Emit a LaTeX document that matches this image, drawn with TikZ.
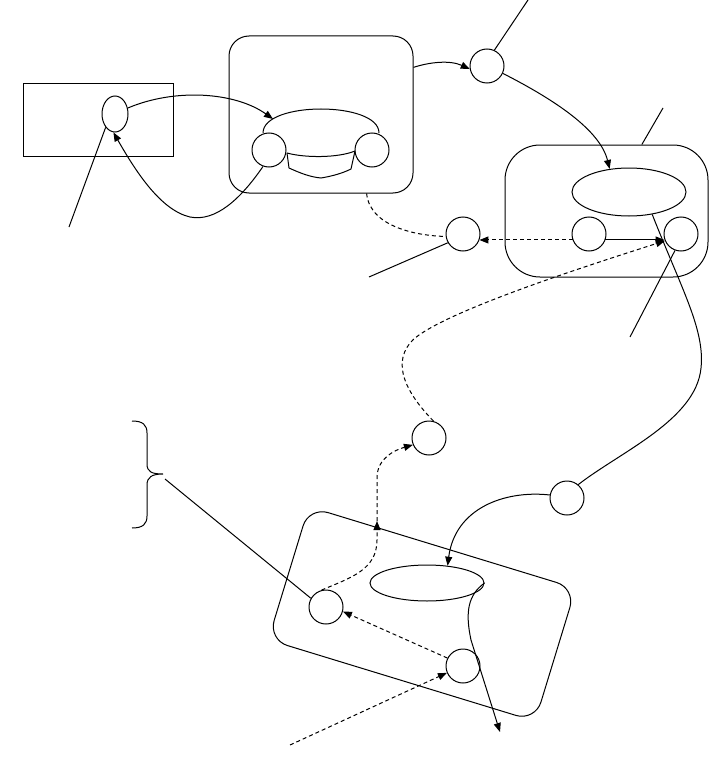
\documentclass[tikz,border=0pt]{standalone}
\usetikzlibrary{arrows.meta,shapes.geometric}
\begin{document}
\begin{tikzpicture}[x=1pt,y=-1pt,line width=1pt,
  circ/.style={draw,circle,minimum size=34pt,inner sep=0pt},
  ell/.style={draw,ellipse,inner sep=0pt},
  rbox/.style={draw,rectangle,rounded corners=#1,inner sep=0pt},
  tip/.style={-{Triangle[length=9pt,width=7pt]}},
  dsh/.style={dash pattern=on 4pt off 3pt}]
\useasboundingbox (0,0) rectangle (713,781);

% left rectangle and ellipse
\node[draw,rectangle,minimum width=150pt,minimum height=72pt,inner sep=0pt] (LR) at (98,120) {};
\node[ell,minimum width=26pt,minimum height=36pt] (e0) at (115,114) {};

% big rounded box with cylinder
\node[rbox=20pt,minimum width=184pt,minimum height=157pt] (B) at (321,114.5) {};
\node[circ] (L) at (269,150) {};
\node[circ] (R) at (372,150) {};
\coordinate (cylA) at (263,133);
\coordinate (cylB) at (379,133);
\coordinate (cylC) at (287,153);
\coordinate (cylD) at (355,151);
\coordinate (cyltop) at (273,119);
\draw (cylA) .. controls (263,101) and (379,101) .. (cylB);
\draw (cylC) .. controls (305,158) and (338,158) .. (cylD);
\draw (cylC) -- (289,168) .. controls (300,173) and (310,177) .. (321,178) .. controls (333,176) and (343,173) .. (351,169) -- (cylD);

% circles
\node[circ] (c1) at (487,66) {};
\node[circ] (c2) at (463,234) {};
\node[circ] (c3) at (429,438) {};
\node[circ] (c4) at (567,498) {};
\node[circ] (c5) at (326,607) {};
\node[circ] (c6) at (463,666) {};

% right rounded box
\node[rbox=35pt,minimum width=203pt,minimum height=132pt] (RB) at (606.5,211) {};
\node[ell,minimum width=114pt,minimum height=48pt] (E1) at (629,192) {};
\node[circ] (RL) at (589,234) {};
\node[circ] (RR) at (681,234) {};

% rotated rounded box
\node[rbox=20pt,minimum width=279pt,minimum height=139pt,rotate=-17] (RT) at (422,614) {};
\node[ell,minimum width=114pt,minimum height=36pt] (E2) at (427,583) {};

% free ends
\coordinate (f1) at (69,227);
\coordinate (f2) at (528,0);
\coordinate (f3) at (663,108);
\coordinate (f4) at (369,277);
\coordinate (f5) at (630,337);
\coordinate (f6) at (500,732);
\coordinate (f7) at (290,745);
\coordinate (mid) at (377,521);
\coordinate (bt) at (165,479);

% connectors around left part
\draw[tip] (e0.25) .. controls (175,88) and (235,92) .. (cyltop);
\draw[tip] (L.-110) .. controls (240,200) and (215,222) .. (190,217) .. controls (160,210) and (135,170) .. (e0.-95);
\draw (e0.-125) -- (f1);

% top connectors
\draw[tip] (B.27) .. controls (430,62) and (450,60) .. (c1.190);
\draw (c1.65) -- (f2);
\draw[tip] (c1.-25) .. controls (555,100) and (600,130) .. (E1.130);
\draw (RB.62) -- (f3);

% right box internal
\draw[tip] (RL.-20) -- (RR.-160);
\draw[tip,dsh] (RL.-160) -- (c2.-20);
\draw (c2.-150) -- (f4);
\draw[dsh] (B.-60) .. controls (370,228) and (420,236) .. (c2.-172);
\draw (RR.-110) -- (f5);

% long solid curve from E1 to c4
\draw (E1.-44) .. controls (682,290) and (705,330) .. (701,368) .. controls (696,420) and (620,452) .. (c4.50);

% dashed curve from c3 to RR
\draw[tip,dsh] (c3.75) .. controls (408,395) and (388,362) .. (415,338) .. controls (450,310) and (580,268) .. (RR.-157);

% lower part
\draw[tip] (c4.170) .. controls (505,490) and (455,508) .. (E2.40);
\draw[tip] (E2.east) .. controls (468,595) and (465,612) .. (471,640) -- (f6);
\draw[tip,dsh] (c6.153) -- (c5.-15);
\draw[tip,dsh] (f7) -- (c6.-157);
\draw[tip,dsh] (c5.105) .. controls (350,578) and (377,570) .. (377,540) -- (mid);
\draw[tip,dsh] (mid) -- (377,478) .. controls (377,458) and (395,450) .. (c3.-157);
\draw (bt) -- (c5.150);

% brace
\draw (132,421) .. controls (143,421) and (147,425) .. (147,433) -- (147,464) .. controls (147,472) and (152,474) .. (163,474)
      .. controls (152,474) and (147,477) .. (147,485) -- (147,516) .. controls (147,524) and (143,528) .. (132,528);
\end{tikzpicture}
\end{document}
